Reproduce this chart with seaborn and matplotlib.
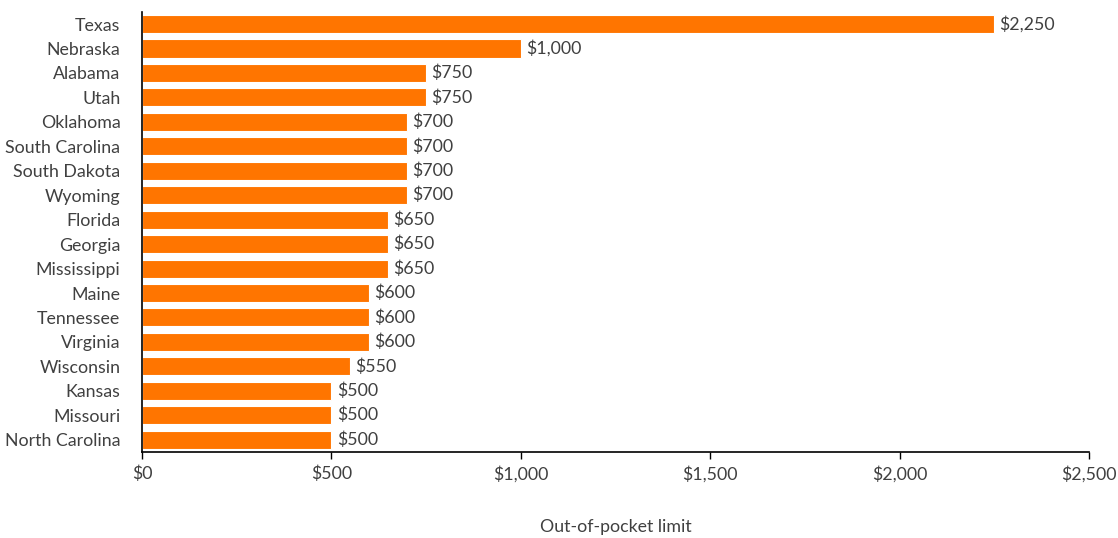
import seaborn as sns
import pandas as pd
import matplotlib.pyplot as plt
from matplotlib.ticker import FuncFormatter

# data
states = ["Texas", "Nebraska", "Alabama", "Utah", "Oklahoma", "South Carolina",
          "South Dakota", "Wyoming", "Florida", "Georgia", "Mississippi", "Maine",
          "Tennessee", "Virginia", "Wisconsin", "Kansas", "Missouri", "North Carolina"]
limits = [2250, 1000, 750, 750, 700, 700, 700, 700, 650, 650, 650, 600,
          600, 600, 550, 500, 500, 500]

df = pd.DataFrame({"state": states, "limit": limits})

sns.set_style("white")
plt.rcParams["font.family"] = ["Lato", "DejaVu Sans"]
text_col = "#404040"
fs = 12.8

fig, ax = plt.subplots(figsize=(11.18, 5.38), dpi=100)
fig.subplots_adjust(left=0.127, right=0.974, bottom=0.160, top=0.978)

sns.barplot(data=df, x="limit", y="state", color="#FF7500", saturation=1,
            width=0.74, edgecolor="white", linewidth=0.8, ax=ax)

for i, v in enumerate(limits):
    ax.text(v + 14, i, "${:,}".format(v), va="center", ha="left",
            fontsize=fs, color=text_col)

ax.set_xlim(0, 2500)
ax.set_xticks([0, 500, 1000, 1500, 2000, 2500])
ax.xaxis.set_major_formatter(FuncFormatter(lambda x, p: "${:,.0f}".format(x)))
ax.set_ylim(len(states) - 0.5, -0.5)

ax.set_ylabel("")
ax.set_xlabel("Out-of-pocket limit", fontsize=fs, color=text_col, labelpad=26)

for s in ["top", "right"]:
    ax.spines[s].set_visible(False)
for s in ["left", "bottom"]:
    ax.spines[s].set_color("black")
    ax.spines[s].set_linewidth(1.2)

ax.tick_params(axis="x", bottom=True, direction="out", length=5, width=1,
               color="black", labelsize=fs, labelcolor=text_col, pad=5)
ax.tick_params(axis="y", left=False, labelsize=fs, labelcolor=text_col, pad=12)

plt.savefig("out.png", dpi=100)
